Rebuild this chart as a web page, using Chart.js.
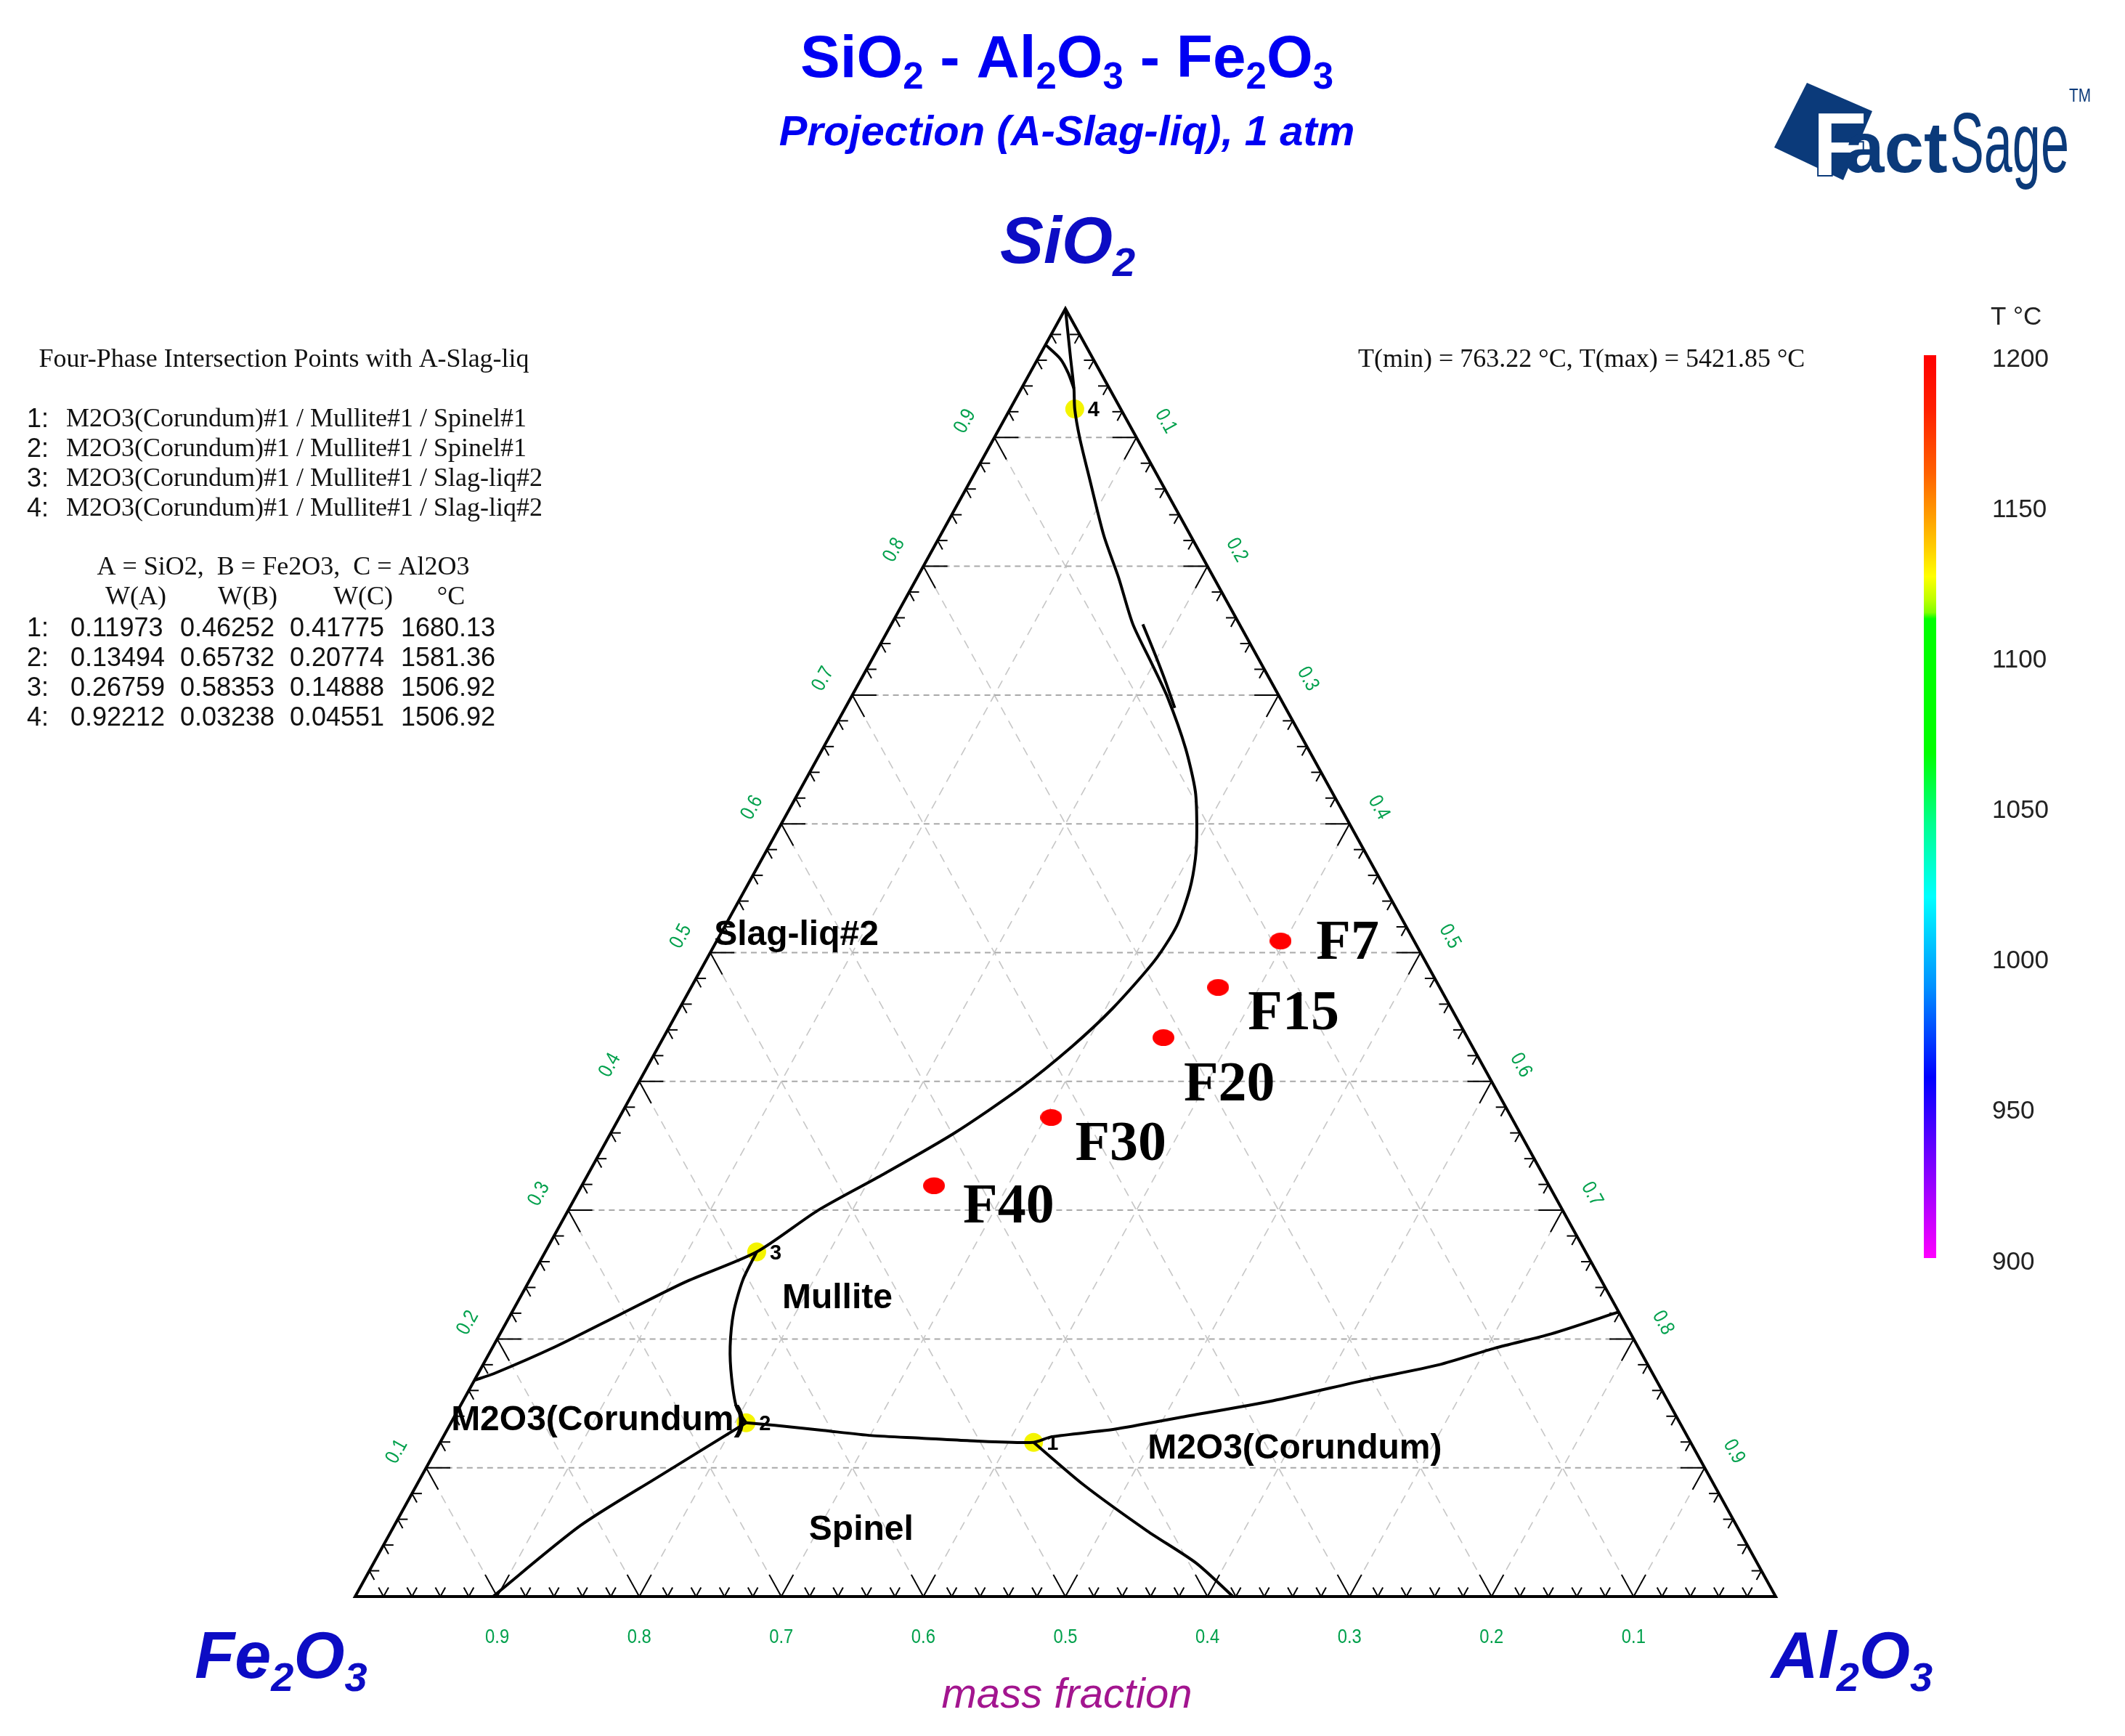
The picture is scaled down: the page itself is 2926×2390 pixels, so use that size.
<!DOCTYPE html>
<html>
<head>
<meta charset="utf-8">
<script src="https://cdn.jsdelivr.net/npm/chart.js@4.4.1/dist/chart.umd.min.js"></script>
<style>
html, body { margin: 0; padding: 0; background: #fff; }
#wrap { position: relative; width: 2926px; height: 2390px; }
</style>
</head>
<body>
<div id="wrap"><canvas id="ternary" width="2926" height="2390"></canvas></div>
<script>
// A = SiO2 (top corner), B = Fe2O3 (left corner), C = Al2O3 (right corner)
const fracTicks = [0.1, 0.2, 0.3, 0.4, 0.5, 0.6, 0.7, 0.8, 0.9];
const fracTickText = ['0.1', '0.2', '0.3', '0.4', '0.5', '0.6', '0.7', '0.8', '0.9'];

const invariantLabels = ['1', '2', '3', '4'];
const invariantPhases = [
    'M2O3(Corundum)#1 / Mullite#1 / Spinel#1',
    'M2O3(Corundum)#1 / Mullite#1 / Spinel#1',
    'M2O3(Corundum)#1 / Mullite#1 / Slag-liq#2',
    'M2O3(Corundum)#1 / Mullite#1 / Slag-liq#2'
];
const invariantSiO2 = [0.11973, 0.13494, 0.26759, 0.92212];
const invariantFe2O3 = [0.46252, 0.65732, 0.58353, 0.03238];
const invariantAl2O3 = [0.41775, 0.20774, 0.14888, 0.04551];
const invariantTemp = [1680.13, 1581.36, 1506.92, 1506.92];

const sampleNames = ['F7', 'F15', 'F20', 'F30', 'F40'];
const sampleSiO2 = [0.509, 0.473, 0.434, 0.372, 0.319];
const sampleAl2O3 = [0.397, 0.371, 0.352, 0.304, 0.248];

const tempTicks = [1200, 1150, 1100, 1050, 1000, 950, 900];

// boundary lines, each point is [SiO2, Al2O3]
const slagBoundary = [
    [1.0, 0.0], [0.963, 0.022], [0.938, 0.037], [0.92212, 0.04551], [0.900, 0.060],
    [0.868, 0.083], [0.824, 0.115], [0.791, 0.142], [0.755, 0.170], [0.724, 0.199],
    [0.698, 0.223], [0.659, 0.255], [0.625, 0.279], [0.595, 0.295], [0.573, 0.305],
    [0.549, 0.313], [0.521, 0.318], [0.494, 0.316], [0.457, 0.305], [0.427, 0.291],
    [0.395, 0.271], [0.360, 0.242], [0.328, 0.208], [0.300, 0.176], [0.26759, 0.14888],
    [0.244, 0.110], [0.219, 0.077], [0.194, 0.044], [0.173, 0.011], [0.168, 0.0]
];
const slagBoundaryInner = [
    [0.755, 0.177], [0.732, 0.197], [0.712, 0.214], [0.690, 0.232]
];
const topBranch = [
    [0.972, 0.0], [0.961, 0.016], [0.950, 0.027], [0.938, 0.037]
];
const mulliteCorundum = [
    [0.26759, 0.14888], [0.246, 0.150], [0.221, 0.156], [0.194, 0.167],
    [0.170, 0.180], [0.147, 0.195], [0.13494, 0.20774]
];
const corundumSpinel = [
    [0.13494, 0.20774], [0.133, 0.229], [0.129, 0.265], [0.125, 0.301], [0.123, 0.337],
    [0.121, 0.372], [0.11973, 0.41775], [0.124, 0.428], [0.130, 0.470], [0.139, 0.511],
    [0.152, 0.570], [0.168, 0.627], [0.180, 0.673], [0.193, 0.706], [0.204, 0.740],
    [0.221, 0.779]
];
const spinelLeft = [
    [0.13494, 0.20774], [0.093, 0.167], [0.055, 0.131], [0.0, 0.097]
];
const spinelRight = [
    [0.11973, 0.41775], [0.087, 0.469], [0.051, 0.532], [0.026, 0.579], [0.0, 0.618]
];

const toXY = pts => pts.map(([a, c]) => ({ x: c + a / 2, y: a }));

function ellipseDot(w, h, color) {
    const c = document.createElement('canvas');
    c.width = w;
    c.height = h;
    const g = c.getContext('2d');
    g.fillStyle = color;
    g.beginPath();
    g.ellipse(w / 2, h / 2, w / 2, h / 2, 0, 0, Math.PI * 2);
    g.fill();
    return c;
}

function tern(chart, a, c) {
    return [chart.scales.x.getPixelForValue(c + a / 2), chart.scales.y.getPixelForValue(a)];
}

function seg(ctx, p, q) {
    ctx.beginPath();
    ctx.moveTo(p[0], p[1]);
    ctx.lineTo(q[0], q[1]);
    ctx.stroke();
}

// text with subscripts, parts = [[text, isSub], ...]
function richText(ctx, parts, x, y, size, font, color, align) {
    const main = font.replace('SIZE', size + 'px');
    const sub = font.replace('SIZE', Math.round(size * 0.62) + 'px');
    let total = 0;
    parts.forEach(([t, s]) => { ctx.font = s ? sub : main; total += ctx.measureText(t).width; });
    let cx = align === 'center' ? x - total / 2 : x;
    ctx.fillStyle = color;
    ctx.textAlign = 'left';
    ctx.textBaseline = 'alphabetic';
    parts.forEach(([t, s]) => {
        ctx.font = s ? sub : main;
        ctx.fillText(t, cx, s ? y + size * 0.2 : y);
        cx += ctx.measureText(t).width;
    });
}

const ternaryFrame = {
    id: 'ternaryFrame',
    beforeDraw(chart) {
        const ctx = chart.ctx;
        ctx.save();
        ctx.fillStyle = '#fff';
        ctx.fillRect(0, 0, chart.width, chart.height);
        ctx.restore();
    },
    beforeDatasetsDraw(chart) {
        const ctx = chart.ctx;
        const P = (a, c) => tern(chart, a, c);
        ctx.save();
        // dashed grid
        fracTicks.forEach(v => {
            ctx.strokeStyle = '#a9a9a9';
            ctx.lineWidth = 2;
            ctx.setLineDash([8, 6]);
            seg(ctx, P(v, 0), P(v, 1 - v));
            ctx.strokeStyle = '#c6c6c6';
            ctx.lineWidth = 1.6;
            ctx.setLineDash([12, 9]);
            seg(ctx, P(0, v), P(1 - v, v));
            seg(ctx, P(0, 1 - v), P(1 - v, 0));
        });
        ctx.setLineDash([]);
        // ticks
        ctx.strokeStyle = '#000';
        ctx.lineWidth = 2;
        for (let k = 1; k < 50; k++) {
            const v = k * 0.02;
            const L = k % 5 === 0 ? 0.017 : 0.007;
            seg(ctx, P(0, v), P(L, v));
            seg(ctx, P(0, v), P(L, v - L));
            seg(ctx, P(v, 0), P(v, L));
            seg(ctx, P(v, 0), P(v - L, L));
            seg(ctx, P(v, 1 - v), P(v, 1 - v - L));
            seg(ctx, P(v, 1 - v), P(v - L, 1 - v));
        }
        // triangle
        ctx.lineWidth = 4;
        ctx.lineJoin = 'miter';
        const top = P(1, 0), bl = P(0, 0), br = P(0, 1);
        ctx.beginPath();
        ctx.moveTo(top[0], top[1]);
        ctx.lineTo(bl[0], bl[1]);
        ctx.lineTo(br[0], br[1]);
        ctx.closePath();
        ctx.stroke();
        ctx.restore();
    },
    afterDatasetsDraw(chart) {
        const ctx = chart.ctx;
        const P = (a, c) => tern(chart, a, c);
        const top = P(1, 0), bl = P(0, 0), br = P(0, 1);
        ctx.save();

        // tick labels
        const angL = Math.atan2(top[1] - bl[1], top[0] - bl[0]);
        const angR = Math.atan2(br[1] - top[1], br[0] - top[0]);
        const nL = [Math.sin(angL), -Math.cos(angL)];
        const nR = [Math.sin(angR), -Math.cos(angR)];
        ctx.fillStyle = '#00a04c';
        ctx.textAlign = 'center';
        ctx.textBaseline = 'middle';
        ctx.font = "28px 'Liberation Sans Narrow', 'Liberation Sans', Arial";
        const label = (txt, x, y, ang) => {
            ctx.save();
            ctx.translate(x, y);
            ctx.rotate(ang);
            ctx.scale(0.85, 1);
            ctx.fillText(txt, 0, 0);
            ctx.restore();
        };
        fracTicks.forEach((v, i) => {
            let p = P(0, 1 - v);
            label(fracTickText[i], p[0], p[1] + 56, 0);
            p = P(v, 0);
            label(fracTickText[i], p[0] + nL[0] * 46, p[1] + nL[1] * 46, angL);
            p = P(1 - v, v);
            label(fracTickText[i], p[0] + nR[0] * 46, p[1] + nR[1] * 46, angR);
        });

        // invariant point numbers
        ctx.fillStyle = '#000';
        ctx.textAlign = 'left';
        ctx.font = "bold 29px 'Liberation Sans', Arial";
        invariantLabels.forEach((t, i) => {
            const p = P(invariantSiO2[i], invariantAl2O3[i]);
            ctx.fillText(t, p[0] + 18, p[1] + 2);
        });

        // sample labels
        const sampleOffsets = [[49, 4], [41, 37], [28, 66], [33, 38], [40, 30]];
        ctx.font = "bold 78px 'Liberation Serif', 'Times New Roman'";
        sampleNames.forEach((t, i) => {
            const p = P(sampleSiO2[i], sampleAl2O3[i]);
            ctx.fillText(t, p[0] + sampleOffsets[i][0], p[1] + sampleOffsets[i][1]);
        });

        // phase field names
        ctx.font = "bold 48px 'Liberation Sans', Arial";
        const fields = [
            ['Slag-liq#2', 0.5133, -0.004],
            ['Mullite', 0.2312, 0.185],
            ['M2O3(Corundum)', 0.1365, -0.0007],
            ['M2O3(Corundum)', 0.1145, 0.5006],
            ['Spinel', 0.0513, 0.2938]
        ];
        fields.forEach(([t, a, c]) => {
            const p = P(a, c);
            ctx.fillText(t, p[0], p[1]);
        });

        // corner names
        const corner = "italic bold SIZE 'Liberation Sans', Arial";
        richText(ctx, [['SiO', false], ['2', true]], top[0] + 3, 362, 90, corner, '#0c0cc4', 'center');
        richText(ctx, [['Fe', false], ['2', true], ['O', false], ['3', true]], 387, 2310, 90, corner, '#0c0cc4', 'center');
        richText(ctx, [['Al', false], ['2', true], ['O', false], ['3', true]], 2550, 2310, 90, corner, '#0c0cc4', 'center');

        // title
        const tf = "bold SIZE 'Liberation Sans', Arial";
        richText(ctx, [['SiO', false], ['2', true], [' - Al', false], ['2', true], ['O', false], ['3', true],
            [' - Fe', false], ['2', true], ['O', false], ['3', true]], 1469, 106, 82, tf, '#0000f2', 'center');
        ctx.fillStyle = '#0000f2';
        ctx.textAlign = 'center';
        ctx.textBaseline = 'alphabetic';
        ctx.font = "italic bold 58px 'Liberation Sans', Arial";
        ctx.fillText('Projection (A-Slag-liq), 1 atm', 1469, 200);
        ctx.fillStyle = '#a3158f';
        ctx.font = "italic 58px 'Liberation Sans', Arial";
        ctx.fillText('mass fraction', 1469, 2351);

        // left info block
        ctx.fillStyle = '#111';
        ctx.textBaseline = 'middle';
        const serif = "36px 'Liberation Serif', 'Times New Roman'";
        const sans = "36px 'Liberation Sans', Arial";
        ctx.font = serif;
        ctx.textAlign = 'center';
        ctx.fillText('Four-Phase Intersection Points with A-Slag-liq', 391, 496);
        ctx.textAlign = 'left';
        invariantPhases.forEach((t, i) => {
            const y = 578 + i * 41;
            ctx.font = sans;
            ctx.fillText(invariantLabels[i] + ':', 37, y);
            ctx.font = serif;
            ctx.fillText(t, 91, y);
        });
        ctx.textAlign = 'center';
        ctx.fillText('A = SiO2,  B = Fe2O3,  C = Al2O3', 390, 782);
        ctx.fillText('W(A)', 187, 823);
        ctx.fillText('W(B)', 341, 823);
        ctx.fillText('W(C)', 500, 823);
        ctx.fillText('\u00B0C', 621, 823);
        ctx.textAlign = 'left';
        ctx.font = sans;
        invariantLabels.forEach((t, i) => {
            const y = 866 + i * 41;
            ctx.fillText(t + ':', 37, y);
            ctx.fillText(invariantSiO2[i].toFixed(5), 97, y);
            ctx.fillText(invariantFe2O3[i].toFixed(5), 248, y);
            ctx.fillText(invariantAl2O3[i].toFixed(5), 399, y);
            ctx.fillText(invariantTemp[i].toFixed(2), 552, y);
        });
        ctx.font = serif;
        ctx.fillText('T(min) = 763.22 \u00B0C, T(max) = 5421.85 \u00B0C', 1870, 496);

        // colour bar
        const cbTop = 489, cbBottom = 1732, cbX = 2649, cbW = 17;
        const grad = ctx.createLinearGradient(0, cbTop, 0, cbBottom);
        [[0, '#ff0000'], [0.06, '#ff2000'], [0.13, '#ff6000'], [0.18, '#ffa000'], [0.215, '#ffd000'],
         [0.245, '#ffff00'], [0.27, '#c0ff00'], [0.285, '#80ff00'], [0.292, '#00ff00'], [0.44, '#00ff00'],
         [0.52, '#00ff90'], [0.6, '#00ffff'], [0.7, '#0090ff'], [0.8, '#0000ff'], [0.9, '#8000ff'],
         [1, '#ff00ff']].forEach(([o, c]) => grad.addColorStop(o, c));
        ctx.fillStyle = grad;
        ctx.fillRect(cbX, cbTop, cbW, cbBottom - cbTop);
        ctx.fillStyle = '#222';
        ctx.font = "35px 'Liberation Sans', Arial";
        ctx.textAlign = 'left';
        ctx.fillText('T \u00B0C', 2741, 437);
        const tMax = tempTicks[0], tMin = tempTicks[tempTicks.length - 1];
        tempTicks.forEach(t => {
            const y = cbTop + (tMax - t) / (tMax - tMin) * (cbBottom - cbTop);
            ctx.fillText(String(t), 2743, y + 6);
        });

        // FactSage logo
        const navy = '#0b3a7a';
        ctx.fillStyle = navy;
        ctx.beginPath();
        ctx.moveTo(2443, 203);
        ctx.lineTo(2488, 114);
        ctx.lineTo(2578, 153);
        ctx.lineTo(2538, 248);
        ctx.closePath();
        ctx.fill();
        ctx.textBaseline = 'alphabetic';
        ctx.font = "bold 122px 'Liberation Sans', Arial";
        ctx.lineWidth = 4;
        ctx.strokeStyle = navy;
        ctx.strokeText('F', 2496, 241);
        ctx.fillStyle = '#fff';
        ctx.fillText('F', 2496, 241);
        ctx.fillStyle = navy;
        ctx.font = "bold 98px 'Liberation Sans', Arial";
        ctx.fillText('act', 2540, 237);
        ctx.save();
        ctx.translate(2685, 237);
        ctx.scale(0.6, 1);
        ctx.font = "117px 'Liberation Sans', Arial";
        ctx.fillText('Sage', 0, 0);
        ctx.restore();
        ctx.save();
        ctx.translate(2849, 140);
        ctx.scale(0.8, 1);
        ctx.font = "26px 'Liberation Sans', Arial";
        ctx.fillText('TM', 0, 0);
        ctx.restore();

        ctx.restore();
    }
};

const curveStyle = {
    showLine: true,
    pointRadius: 0,
    borderColor: '#000',
    borderWidth: 4,
    tension: 0.25,
    fill: false,
    clip: false
};

const datasets = [
    { label: 'slag boundary', data: toXY(slagBoundary), ...curveStyle },
    { label: 'slag boundary inner', data: toXY(slagBoundaryInner), ...curveStyle },
    { label: 'top branch', data: toXY(topBranch), ...curveStyle },
    { label: 'mullite / corundum', data: toXY(mulliteCorundum), ...curveStyle },
    { label: 'corundum / spinel', data: toXY(corundumSpinel), ...curveStyle },
    { label: 'spinel left', data: toXY(spinelLeft), ...curveStyle },
    { label: 'spinel right', data: toXY(spinelRight), ...curveStyle },
    {
        label: 'invariant points',
        data: invariantSiO2.map((a, i) => ({ x: invariantAl2O3[i] + a / 2, y: a })),
        showLine: false,
        pointRadius: 13,
        pointBackgroundColor: '#f4f400',
        pointBorderWidth: 0,
        clip: false
    },
    {
        label: 'samples',
        data: sampleSiO2.map((a, i) => ({ x: sampleAl2O3[i] + a / 2, y: a })),
        showLine: false,
        pointStyle: ellipseDot(30, 23, '#ff0000'),
        clip: false
    }
];

new Chart(document.getElementById('ternary'), {
    type: 'scatter',
    data: { datasets },
    options: {
        responsive: false,
        devicePixelRatio: 1,
        animation: false,
        layout: { padding: { left: 489, right: 481, top: 425, bottom: 192 } },
        scales: {
            x: { type: 'linear', min: 0, max: 1, display: false },
            y: { type: 'linear', min: 0, max: 1, display: false }
        },
        plugins: {
            legend: { display: false },
            tooltip: { enabled: false }
        }
    },
    plugins: [ternaryFrame]
});
</script>
</body>
</html>
